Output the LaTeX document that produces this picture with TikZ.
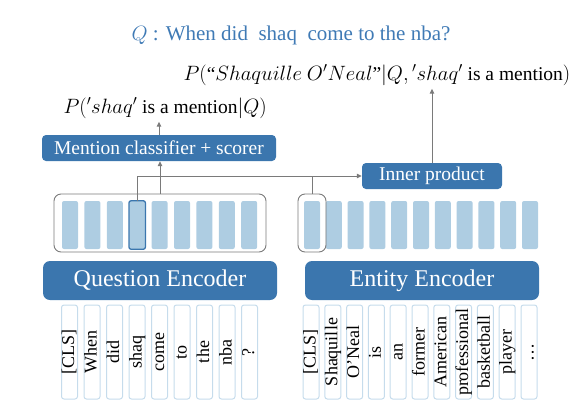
\documentclass[tikz,border=0pt]{standalone}
\usepackage{amsmath}
\usepackage{fontspec}
\setmainfont{Liberation Serif}
\usetikzlibrary{arrows.meta,positioning,calc}
\definecolor{encblue}{HTML}{3B76AE}
\definecolor{barblue}{HTML}{AECDE2}
\definecolor{tokline}{HTML}{C6DCEC}
\definecolor{linegray}{HTML}{7A7A7A}
\definecolor{titleblue}{HTML}{3F7AB5}
\tikzset{
  darkbox/.style={fill=encblue,text=white,rounded corners=4pt,inner sep=0pt,
    font=\fontsize{19.5}{22}\selectfont},
  encbox/.style={darkbox,rounded corners=7pt,minimum width=234pt,minimum height=39pt,
    font=\fontsize{24}{26}\selectfont},
  vecbox/.style={draw=linegray,line width=0.9pt,rounded corners=7pt,minimum height=58pt},
  bar/.style={fill=barblue,rounded corners=2pt,minimum width=16pt,minimum height=48pt,inner sep=0pt},
  tok/.style={draw=tokline,line width=1pt,fill=white,rounded corners=2.5pt,rotate=90,
    minimum width=94pt,minimum height=16pt,inner sep=0pt,text height=12.5pt,text depth=3.5pt,
    font=\fontsize{18}{20}\selectfont},
  conn/.style={draw=linegray,line width=1pt},
  arr/.style={conn,-{Triangle[length=5pt,width=4.5pt]}},
  plabel/.style={anchor=base west,font=\fontsize{19.5}{22}\selectfont}
}
\begin{document}
\begin{tikzpicture}[x=1pt,y=-1pt]
  \useasboundingbox (0,0) rectangle (570,413);

  % question on top
  \node[anchor=base,text=titleblue,font=\fontsize{21}{24}\selectfont] (title) at (291,40)
    {$Q$ : When did\ \ shaq\ \ come to the nba?};

  % probabilities
  \node[plabel] (pe) at (180,80)
    {$P(\text{“}Shaquille\ O'Neal\text{”}|Q,{}'shaq'$ is a mention$)$};
  \node[plabel] (pq) at (60,113) {$P({}'shaq'$ is a mention$|Q)$};

  % heads
  \node[darkbox,minimum width=234pt,minimum height=26pt] (mcs) at (159,148) {Mention classifier + scorer};
  \node[darkbox,minimum width=140pt,minimum height=26pt] (inner) at (432,176) {Inner product};

  % output vectors
  \node[vecbox,minimum width=212pt] (qvec) at (160,223) {};
  \foreach \i in {1,...,9}
    \node[bar] (qb\i) at ({70+22.4*(\i-1)},225) {};
  \draw[encblue,line width=1.3pt,rounded corners=2pt] (qb4.south west) rectangle (qb4.north east);
  \foreach \i in {1,...,11}
    \node[bar] (eb\i) at ({312+21.8*(\i-1)},225) {};
  \node[vecbox,minimum width=28pt] (ecls) at (312,223) {};

  % encoders
  \node[encbox] (qenc) at (160,280.5) {Question Encoder};
  \node[encbox] (eenc) at (422,280.5) {Entity Encoder};

  % input tokens
  \foreach \w [count=\i] in {{[CLS]},When,did,shaq,come,to,the,nba,?}
    \node[tok] (qt\i) at ({69.5+22.5*(\i-1)},352) {\w};
  \foreach \w [count=\i] in {{[CLS]},Shaquille,O'Neal,is,an,former,American,professional,basketball,player,\dots}
    \node[tok] (et\i) at ({311+21.8*(\i-1)},352) {\w};

  % connectors
  \draw[arr] (qvec.north) -- (qvec.north |- mcs.south);
  \draw[arr] (mcs.north) -- (mcs.north |- pq.south);
  \draw[arr] (qb4.north) |- (inner.west);
  \draw[conn] (ecls.north) -- (ecls.north |- inner.west);
  \draw[arr] (inner.north) -- (inner.north |- pe.south);
\end{tikzpicture}
\end{document}
